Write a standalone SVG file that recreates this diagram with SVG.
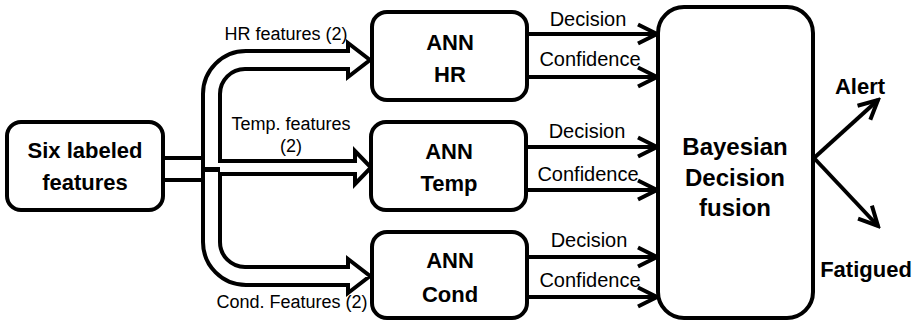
<svg xmlns="http://www.w3.org/2000/svg" width="915" height="322" viewBox="0 0 915 322">
<style>
.box{fill:#fff;stroke:#000;stroke-width:4}
.t{font-family:"Liberation Sans",Arial,sans-serif;fill:#000;text-anchor:middle}
.b{font-weight:bold;font-size:22px}
.big{font-weight:bold;font-size:24px}
.lbl{font-size:20px}
.fl{font-size:18px}
.ln{stroke:#000;stroke-width:4;fill:none}
</style>
<defs>
<marker id="chev" markerUnits="userSpaceOnUse" markerWidth="24" markerHeight="24" viewBox="0 0 24 24" refX="21" refY="12" orient="auto">
<path d="M2,2.5 L21,12 L2,21.5" fill="none" stroke="#000" stroke-width="4"/>
</marker>
</defs>
<rect width="915" height="322" fill="#fff"/>
<g id="connectors">
<line class="ln" x1="163" y1="158" x2="204" y2="158"/>
<line class="ln" x1="163" y1="180" x2="204" y2="180"/>
<path id="feature-tube" d="M203,94 A43,43 0 0 1 246,51 L348,51 L348,43 L370,60 L348,77 L348,69 L245,69 A25,25 0 0 0 220,94 L220,161 L355,161 L355,151 L371,167.5 L355,184 L355,174 L220,174 L220,242 A25,25 0 0 0 245,267 L348,267 L348,259 L370,276 L348,293 L348,285 L246,285 A43,43 0 0 1 203,242 Z" fill="#fff" stroke="#000" stroke-width="4" stroke-linejoin="miter"/>
<line x1="203" y1="169.5" x2="220" y2="169.5" stroke="#000" stroke-width="5"/>
<line class="ln" x1="527" y1="34" x2="657" y2="34" marker-end="url(#chev)"/>
<line class="ln" x1="527" y1="77" x2="657" y2="77" marker-end="url(#chev)"/>
<line class="ln" x1="526" y1="147" x2="657" y2="147" marker-end="url(#chev)"/>
<line class="ln" x1="526" y1="190" x2="657" y2="190" marker-end="url(#chev)"/>
<line class="ln" x1="527" y1="257" x2="657" y2="257" marker-end="url(#chev)"/>
<line class="ln" x1="527" y1="297" x2="657" y2="297" marker-end="url(#chev)"/>
<line class="ln" x1="814" y1="158" x2="878" y2="100" marker-end="url(#chev)"/>
<line class="ln" x1="814" y1="158" x2="878" y2="226" marker-end="url(#chev)"/>
<text class="t fl" x="286" y="40">HR features (2)</text>
<text class="t fl" x="291" y="130">Temp. features</text>
<text class="t fl" x="291" y="152">(2)</text>
<text class="t fl" x="292" y="308">Cond. Features (2)</text>
<text class="t lbl" x="588" y="26">Decision</text>
<text class="t lbl" x="590" y="66">Confidence</text>
<text class="t lbl" x="587" y="138">Decision</text>
<text class="t lbl" x="588" y="181">Confidence</text>
<text class="t lbl" x="589" y="247">Decision</text>
<text class="t lbl" x="590" y="287">Confidence</text>
<text class="t b" x="860" y="94">Alert</text>
<text class="t b" x="866" y="277">Fatigued</text>
</g>
<g id="six-features">
<rect class="box" x="7" y="122" width="156" height="88" rx="14"/>
<text class="t b" x="85" y="158">Six labeled</text>
<text class="t b" x="85" y="190">features</text>
</g>
<g id="ann-hr">
<rect class="box" x="372" y="12" width="155" height="88" rx="15"/>
<text class="t b" x="450" y="50">ANN</text>
<text class="t b" x="450" y="82">HR</text>
</g>
<g id="ann-temp">
<rect class="box" x="371" y="122" width="155" height="88" rx="15"/>
<text class="t b" x="449" y="159">ANN</text>
<text class="t b" x="449" y="191">Temp</text>
</g>
<g id="ann-cond">
<rect class="box" x="372" y="232" width="155" height="86" rx="15"/>
<text class="t b" x="450" y="268">ANN</text>
<text class="t b" x="450" y="302">Cond</text>
</g>
<g id="bayesian">
<rect class="box" x="658" y="7" width="155" height="311" rx="26"/>
<text class="t big" x="735" y="155">Bayesian</text>
<text class="t big" x="735" y="186">Decision</text>
<text class="t big" x="735" y="216">fusion</text>
</g>
</svg>
